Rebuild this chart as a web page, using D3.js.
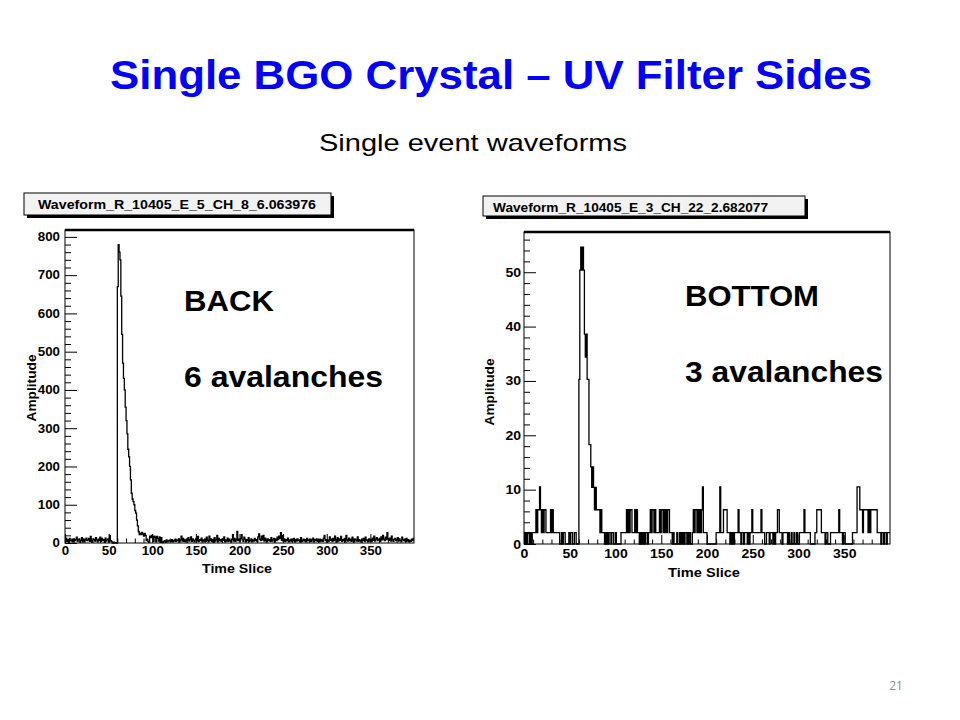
<!DOCTYPE html>
<html><head><meta charset="utf-8">
<script src="https://cdn.jsdelivr.net/npm/d3@7"></script>
<style>body{margin:0;background:#fff}svg{display:block}</style>
</head><body>
<script>
// ---------- DATA ----------
// BACK channel (Waveform_R_10405_E_5_CH_8), 400 time slices
const backBaseline = [8,13,4,9,2,12,7,5,10,3, 11,6,9,15,4,8,11,2,7,14, 5,10,3,9,13,6,8,12,4,17, 7,2,11,9,5,14,8,3,10,6, 15,4,12,7,9,2,13,5,8,11, 3,19,6,4,1,0,2,0,1,0];
const backPulse = [670,780,760,740,645,545,470,430,400,355,320,285,245,225,200,165,130,115,108,100,85,78,60,45,30,22];
const backEarlyTail = [26,22,28,24,18,25,20,6,10,4,2,18,14,20, 16,4,18,15,3,17,12,5,16,2,14,3,1,4,6,2,8,3,5,7];
const backLateTail = [
 6,4,9,3,7,5,10,4,8,6,11,3,9,18,5,12,4,8,3,10,
 7,14,5,9,16,4,11,6,3,8,12,5,17,4,9,6,13,3,8,5,
 10,4,15,7,3,18,6,11,4,9,2,14,5,8,20,3,12,6,9,4,
 11,7,16,3,8,5,13,4,10,6,3,9,22,5,12,4,8,30,6,10,
 5,12,22,8,4,15,10,3,9,6,14,4,7,11,3,8,5,12,6,9,
 4,16,24,10,6,18,8,20,5,13,7,3,11,6,9,4,14,5,8,12,
 3,10,6,15,9,18,12,27,7,20,5,11,4,9,6,13,3,8,5,10,
 4,7,12,3,9,5,11,6,8,3,14,4,7,10,5,9,3,12,6,8,
 5,10,4,8,13,3,9,6,11,4,7,3,10,5,8,4,12,20,6,9,
 3,8,5,16,7,10,4,12,6,18,9,3,14,5,11,7,17,4,9,6,
 12,3,20,8,5,13,6,10,4,15,7,3,11,8,5,16,4,9,6,3,
 10,7,12,4,15,6,8,3,11,5,9,4,13,7,18,5,10,14,6,9,
 12,4,16,8,20,10,6,15,9,27,11,7,13,5,18,8,4,10,12,6,
 9,14,5,11,7,3,15,8,6,10,4,12,5,9,3,7,4,10,6,12];

// BOTTOM channel (Waveform_R_10405_E_3_CH_22), 400 time slices
const bottomBaseline = [
 2.1,0,2.1,0,2.1,2.1,0,2.1,0,2.1, 2.1,2.1,2.1,6.3,2.1,6.3,6.3,10.5,6.3,2.1,
 6.3,2.1,6.3,6.3,2.1,2.1,2.1,2.1,2.1,6.3, 2.1,6.3,2.1,2.1,2.1,2.1,2.1,2.1,2.1,0,
 0,2.1,0,2.1,2.1,0,0,0,0,2.1, 0,2.1,2.1,0,0,2.1,2.1,0,0,0];
const bottomPulse = [30.3,50.4,54.6,50.4,54.6,50.4,38.6,34.4,38.6,30.3, 30.3,18.3,18.3,14.2,10.4,14.2,10.4,6.3,10.4,6.3,
 6.3,6.3,6.3,2.1,6.3];
const bottomTail = [
 2.1,2.1,2.1,0,2.1, 0,2.1,0,2.1,2.1,0,2.1,2.1,0,0,
 2.1,0,0,0,0,0,2.1,2.1,2.1,2.1, 2.1,2.1,6.3,2.1,6.3,2.1,6.3,6.3,2.1,2.1,
 2.1,6.3,2.1,6.3,2.1,2.1,0,2.1,0,2.1, 0,2.1,0,2.1,2.1,0,2.1,2.1,6.3,2.1,
 6.3,6.3,2.1,6.3,2.1,2.1,2.1,2.1,6.3,2.1, 6.3,6.3,2.1,6.3,2.1,6.3,2.1,6.3,6.3,2.1,
 2.1,2.1,0,2.1,0,0,0,2.1,0,0, 2.1,0,2.1,0,2.1,0,2.1,2.1,0,2.1,
 0,2.1,0,0,2.1,6.3,2.1,6.3,6.3,2.1, 6.3,2.1,6.3,2.1,6.3,10.5,2.1,2.1,2.1,2.1,
 0,0,0,0,0,0,0,0,0,0, 2.1,2.1,2.1,2.1,10.5,2.1,2.1,2.1,6.3,6.3,
 6.3,6.3,2.1,2.1,2.1,0,2.1,0,2.1,0, 2.1,2.1,2.1,2.1,6.3,2.1,2.1,0,2.1,2.1,
 0,2.1,2.1,2.1,0,2.1,0,2.1,2.1,6.3, 2.1,2.1,2.1,2.1,2.1,2.1,2.1,2.1,2.1,6.3,
 2.1,2.1,2.1,0,0,2.1,2.1,2.1,0,2.1, 2.1,2.1,0,2.1,0,2.1,2.1,6.3,6.3,2.1,
 2.1,2.1,0,2.1,2.1,2.1,2.1,2.1,0,2.1, 0,0,2.1,0,0,2.1,0,0,2.1,0,
 0,2.1,2.1,2.1,2.1,2.1,6.3,2.1,2.1,2.1, 2.1,2.1,2.1,0,0,0,0,0,2.1,2.1,
 6.3,6.3,6.3,6.3,6.3,2.1,2.1,2.1,2.1,0, 2.1,2.1,0,0,0,2.1,2.1,2.1,2.1,2.1,
 2.1,2.1,2.1,2.1,6.3,2.1,2.1,2.1,0,2.1, 2.1,0,0,0,0,0,0,0,0,2.1,
 2.1,2.1,2.1,2.1,10.5,10.5,10.5,6.3,6.3,6.3, 2.1,6.3,6.3,6.3,6.3,6.3,2.1,6.3,2.1,6.3,
 6.3,6.3,6.3,6.3,6.3,6.3,2.1,2.1,2.1,2.1, 0,2.1,2.1,0,2.1,2.1,0,2.1,2.1,2.1];

const xTickLabels = [0,50,100,150,200,250,300,350];
const backYTicks = [0,100,200,300,400,500,600,700,800];
const bottomYTicks = [0,10,20,30,40,50];

const backValues = backBaseline.concat(backPulse, backEarlyTail, backLateTail);
const bottomValues = bottomBaseline.concat(bottomPulse, bottomTail);

// ---------- DRAW ----------
const FONT = "'Liberation Sans', Arial, sans-serif";
const svg = d3.select("body").append("svg").attr("width", 960).attr("height", 720);
svg.append("rect").attr("width", 960).attr("height", 720).attr("fill", "#fff");

function drawHist(c) {
  const g = svg.append("g");
  const x = d3.scaleLinear().domain([0, 400]).range([c.x0, c.x1]);
  const y = d3.scaleLinear().domain([0, c.ymax]).range([c.yb, c.yt]);

  // title pave
  g.append("rect").attr("x", c.box[0] + 3).attr("y", c.box[1] + 3).attr("width", c.box[2]).attr("height", c.box[3]).attr("fill", "#000");
  g.append("rect").attr("x", c.box[0]).attr("y", c.box[1]).attr("width", c.box[2]).attr("height", c.box[3]).attr("fill", "#f2f2f2").attr("stroke", "#000").attr("stroke-width", 1);
  g.append("text").attr("x", c.titleX).attr("y", c.titleY).attr("font-family", FONT).attr("font-weight", "bold")
    .attr("font-size", c.titleSize).attr("textLength", c.titleLen).attr("lengthAdjust", "spacingAndGlyphs").text(c.title);

  // histogram
  const pts = c.values.map((v, i) => [i, v]);
  pts.push([400, c.values[c.values.length - 1]]);
  const line = d3.line().x(d => x(d[0])).y(d => y(d[1])).curve(d3.curveStepAfter);
  g.append("path").attr("d", line(pts)).attr("fill", "none").attr("stroke", "#000").attr("stroke-width", 1.3);

  // y axis
  const yMinor = d3.range(0, c.yMinorMax + 1e-9, c.yMinorStep).filter(v => !c.yTicks.includes(v));
  const ya = g.append("g").attr("transform", `translate(${c.x0},0)`)
    .call(d3.axisLeft(y).tickValues(c.yTicks).tickSize(-12).tickPadding(c.yPad));
  const yb = g.append("g").attr("transform", `translate(${c.x0},0)`)
    .call(d3.axisLeft(y).tickValues(yMinor).tickSize(-6).tickFormat(""));
  // x axis
  const xMinor = d3.range(0, 400, 10).filter(v => v % 50 !== 0);
  const xa = g.append("g").attr("transform", `translate(0,${c.yb})`)
    .call(d3.axisBottom(x).tickValues(c.xTicks).tickSize(-9).tickPadding(c.xPad));
  const xb = g.append("g").attr("transform", `translate(0,${c.yb})`)
    .call(d3.axisBottom(x).tickValues(xMinor).tickSize(-4.5).tickFormat(""));
  [ya, yb, xa, xb].forEach(a => {
    a.select(".domain").remove();
    a.selectAll("line").attr("stroke", "#000").attr("stroke-width", 1);
    a.selectAll("text").attr("font-family", FONT).attr("font-weight", "bold").attr("fill", "#000");
  });
  [ya, xa].forEach(a => a.selectAll("text").attr("font-size", c.tickSize)
    .attr("textLength", d => String(d).length * c.digitW).attr("lengthAdjust", "spacingAndGlyphs"));

  // frame
  g.append("rect").attr("x", c.x0).attr("y", c.yt).attr("width", c.x1 - c.x0).attr("height", c.yb - c.yt)
    .attr("fill", "none").attr("stroke", "#000").attr("stroke-width", 1);
  g.append("line").attr("x1", c.x0).attr("x2", c.x1).attr("y1", c.yt).attr("y2", c.yt).attr("stroke", "#000").attr("stroke-width", 2.5);

  // axis titles
  g.append("text").attr("transform", `translate(${c.ampX},${c.ampY}) rotate(-90)`).attr("text-anchor", "middle")
    .attr("font-family", FONT).attr("font-weight", "bold").attr("font-size", 12.5)
    .attr("textLength", 67).attr("lengthAdjust", "spacingAndGlyphs").text("Amplitude");
  g.append("text").attr("x", c.tsX).attr("y", c.tsY).attr("text-anchor", "middle")
    .attr("font-family", FONT).attr("font-weight", "bold").attr("font-size", 13)
    .attr("textLength", c.tsLen).attr("lengthAdjust", "spacingAndGlyphs").text("Time Slice");
}

drawHist({
  values: backValues, x0: 65, x1: 414, yb: 543, yt: 230, ymax: 818,
  yTicks: backYTicks, yMinorStep: 20, yMinorMax: 810, xTicks: xTickLabels,
  yPad: 5, xPad: 3, tickSize: 12, digitW: 7.4,
  box: [24, 193, 307, 22], title: "Waveform_R_10405_E_5_CH_8_6.063976", titleX: 38, titleY: 208.5, titleSize: 13.5, titleLen: 278,
  ampX: 36, ampY: 388, tsX: 237, tsY: 573, tsLen: 70
});
drawHist({
  values: bottomValues, x0: 524, x1: 890, yb: 544, yt: 232, ymax: 57.4,
  yTicks: bottomYTicks, yMinorStep: 2, yMinorMax: 56, xTicks: xTickLabels,
  yPad: 3, xPad: 5.5, tickSize: 12.5, digitW: 7.8,
  box: [483, 196, 322, 20], title: "Waveform_R_10405_E_3_CH_22_2.682077", titleX: 493, titleY: 211.5, titleSize: 13, titleLen: 275,
  ampX: 494, ampY: 392, tsX: 704, tsY: 577, tsLen: 72
});

// slide texts
svg.append("text").attr("x", 110).attr("y", 89).attr("font-family", FONT).attr("font-weight", "bold")
  .attr("font-size", 41).attr("fill", "#0000ff").attr("textLength", 762).attr("lengthAdjust", "spacingAndGlyphs")
  .text("Single BGO Crystal – UV Filter Sides");
svg.append("text").attr("x", 319).attr("y", 151).attr("font-family", FONT)
  .attr("font-size", 24).attr("fill", "#000").attr("textLength", 308).attr("lengthAdjust", "spacingAndGlyphs")
  .text("Single event waveforms");
const notes = [
  {t: "BACK", x: 184, y: 311, len: 90},
  {t: "6 avalanches", x: 184, y: 387, len: 199},
  {t: "BOTTOM", x: 685, y: 306, len: 134},
  {t: "3 avalanches", x: 685, y: 382, len: 198}
];
svg.selectAll("text.note").data(notes).join("text").attr("class", "note")
  .attr("x", d => d.x).attr("y", d => d.y).attr("font-family", FONT).attr("font-weight", "bold")
  .attr("font-size", 29).attr("fill", "#000").attr("textLength", d => d.len).attr("lengthAdjust", "spacingAndGlyphs")
  .text(d => d.t);
svg.append("text").attr("x", 896).attr("y", 690).attr("text-anchor", "middle").attr("font-family", "'Open Sans', sans-serif")
  .attr("font-size", 12).attr("fill", "#8c8c8c").text("21");
</script>
</body></html>
